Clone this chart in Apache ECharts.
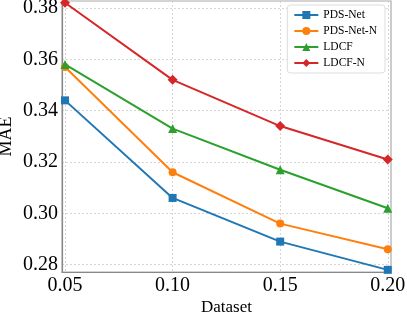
<!DOCTYPE html>
<html><head><meta charset="utf-8">
<script src="https://cdn.jsdelivr.net/npm/echarts@6/dist/echarts.min.js"></script>
<style>html,body{margin:0;padding:0;background:#fff}#c{width:407px;height:316px}</style>
</head><body><div id="c"></div>
<script>
const xValues = [0.05, 0.10, 0.15, 0.20];
const xTicks = [0.05, 0.10, 0.15, 0.20];
const yTicks = [0.28, 0.30, 0.32, 0.34, 0.36, 0.38];
const pdsNet = [0.344, 0.306, 0.289, 0.278];
const pdsNetN = [0.357, 0.316, 0.296, 0.286];
const ldcf = [0.358, 0.333, 0.317, 0.302];
const ldcfN = [0.382, 0.352, 0.334, 0.321];
const seriesNames = ['PDS-Net', 'PDS-Net-N', 'LDCF', 'LDCF-N'];
const seriesData = [pdsNet, pdsNetN, ldcf, ldcfN];
const colors = ['#1f77b4', '#ff7f0e', '#2ca02c', '#d62728'];
const symbols = ['rect', 'circle', 'triangle', 'diamond'];
const symbolSizes = [8, 8, 9, 10];

const font = 'Liberation Serif, Times New Roman, serif';
const chart = echarts.init(document.getElementById('c'));
chart.setOption({
  animation: false,
  textStyle: {fontFamily: font},
  grid: {left: 62, right: 16, top: 1, bottom: 44, show: true, borderColor: '#aaa', borderWidth: 1.2,
         containLabel: false, outerBoundsMode: 'none'},
  legend: {
    right: 22, top: 5, orient: 'vertical', itemGap: 4, itemWidth: 24, itemHeight: 10,
    backgroundColor: '#fff', borderColor: '#ddd', borderWidth: 1, borderRadius: 3, padding: [4, 8, 4, 6],
    textStyle: {fontFamily: font, fontSize: 11.5, color: '#000'},
    data: seriesNames
  },
  xAxis: {
    type: 'value', min: 0.0486, max: 0.2015,
    name: 'Dataset', nameLocation: 'middle', nameGap: 27, nameMoveOverlap: false,
    nameTextStyle: {fontFamily: font, fontSize: 17, color: '#000'},
    axisLine: {show: true, lineStyle: {color: '#888', width: 1.2}},
    axisTick: {show: false, customValues: xTicks},
    axisLabel: {customValues: xTicks, formatter: v => v.toFixed(2), fontFamily: font, fontSize: 20, color: '#000', margin: 4},
    splitLine: {show: true, lineStyle: {color: '#ccc', type: [2, 2], width: 0.8}}
  },
  yAxis: {
    type: 'value', min: 0.27716, max: 0.3827,
    name: 'MAE', nameLocation: 'middle', nameGap: 47, nameMoveOverlap: false,
    nameTextStyle: {fontFamily: font, fontSize: 18, color: '#000'},
    axisLine: {show: true, lineStyle: {color: '#888', width: 1.2}},
    axisTick: {show: false, customValues: yTicks},
    axisLabel: {customValues: yTicks, formatter: v => v.toFixed(2), fontFamily: font, fontSize: 20, color: '#000', margin: 4},
    splitLine: {show: true, lineStyle: {color: '#ccc', type: [2, 2], width: 0.8}}
  },
  series: seriesNames.map((n, i) => ({
    name: n, type: 'line',
    data: xValues.map((x, j) => [x, seriesData[i][j]]),
    symbol: symbols[i], symbolSize: symbolSizes[i], showAllSymbol: true,
    itemStyle: {color: colors[i]},
    lineStyle: {color: colors[i], width: 2},
    z: 2 + i
  }))
});
</script></body></html>
